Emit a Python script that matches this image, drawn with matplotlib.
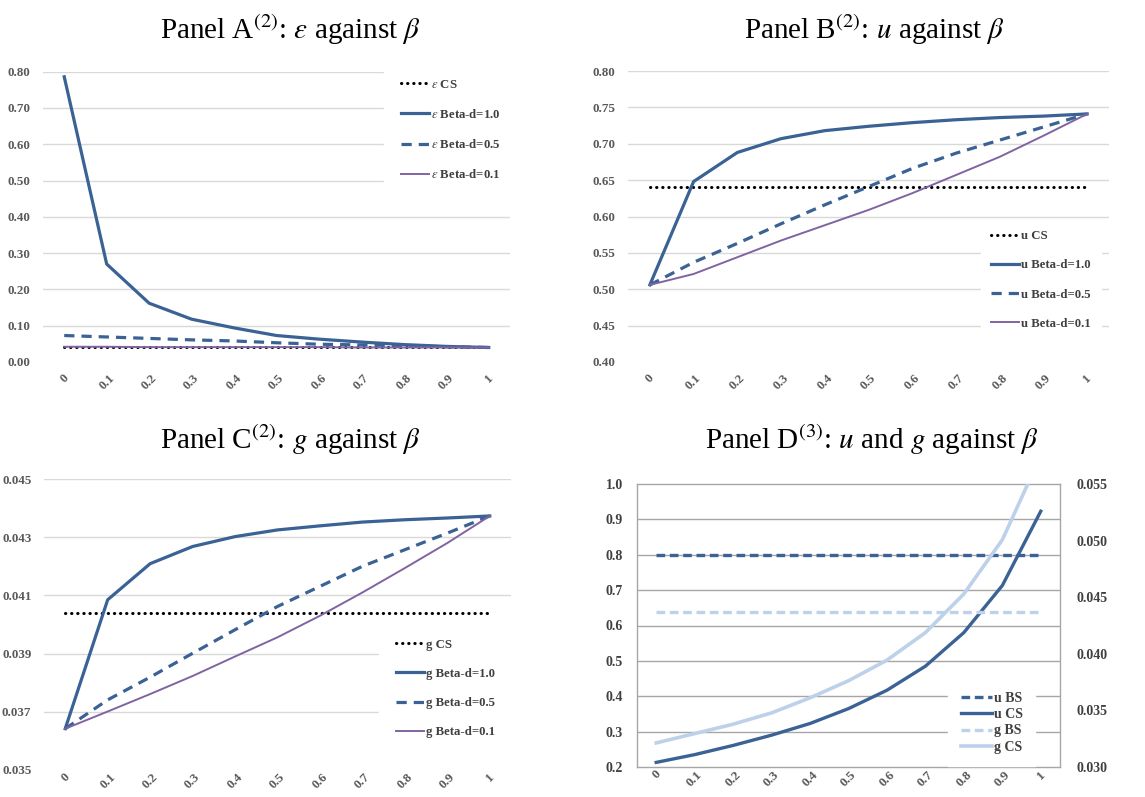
import matplotlib
matplotlib.use("Agg")
import matplotlib.pyplot as plt

# ---------------- data ----------------
beta = [0.0, 0.1, 0.2, 0.3, 0.4, 0.5, 0.6, 0.7, 0.8, 0.9, 1.0]
beta_labels = ['0', '0.1', '0.2', '0.3', '0.4', '0.5', '0.6', '0.7', '0.8', '0.9', '1']

# Panel A : epsilon
epsA_cs = [0.040, 0.040, 0.040, 0.040, 0.040, 0.040, 0.040, 0.040, 0.040, 0.040, 0.040]
epsA_d10 = [0.786, 0.270, 0.162, 0.118, 0.094, 0.073, 0.063, 0.055, 0.048, 0.043, 0.040]
epsA_d05 = [0.073, 0.069, 0.065, 0.061, 0.058, 0.053, 0.049, 0.047, 0.045, 0.042, 0.040]
epsA_d01 = [0.042, 0.042, 0.041, 0.041, 0.041, 0.041, 0.041, 0.040, 0.040, 0.040, 0.040]

# Panel B : u
uB_cs = [0.640, 0.640, 0.640, 0.640, 0.640, 0.640, 0.640, 0.640, 0.640, 0.640, 0.640]
uB_d10 = [0.506, 0.648, 0.688, 0.707, 0.718, 0.724, 0.729, 0.733, 0.736, 0.738, 0.741]
uB_d05 = [0.506, 0.537, 0.563, 0.590, 0.616, 0.641, 0.666, 0.687, 0.705, 0.723, 0.741]
uB_d01 = [0.506, 0.521, 0.544, 0.567, 0.588, 0.609, 0.632, 0.657, 0.682, 0.711, 0.741]

# Panel C : g
gC_cs = [0.04039] * 11
gC_d10 = [0.03642, 0.04085, 0.04209, 0.04268, 0.04302, 0.04325, 0.04339, 0.04352, 0.04360, 0.04366, 0.04373]
gC_d05 = [0.03642, 0.03741, 0.03819, 0.03901, 0.03982, 0.04062, 0.04131, 0.04200, 0.04257, 0.04314, 0.04373]
gC_d01 = [0.03642, 0.03701, 0.03761, 0.03823, 0.03890, 0.03956, 0.04030, 0.04110, 0.04194, 0.04280, 0.04373]

# Panel D : u and g
uD_bs = [0.800] * 11
uD_cs = [0.213, 0.235, 0.261, 0.290, 0.323, 0.365, 0.417, 0.485, 0.580, 0.713, 0.923]
gD_bs = [0.0437] * 11
gD_cs = [0.03213, 0.03295, 0.03378, 0.03478, 0.03611, 0.03762, 0.03944, 0.04187, 0.04529, 0.05007, 0.05750]

# ---------------- style ----------------
plt.rcParams['font.family'] = ['Liberation Serif', 'DejaVu Serif']
plt.rcParams['mathtext.fontset'] = 'stix'

BLUE = '#3A6294'
PURPLE = '#8064A2'
LIGHT = '#BDD1EA'
GRID = '#D9D9D9'
TICKC = '#595959'
LEGC = '#404040'

W, H = 1145, 797
fig = plt.figure(figsize=(W / 100, H / 100), dpi=100)


def rect(l, t, r, b):
    return [l / W, 1 - b / H, (r - l) / W, (b - t) / H]


DOT = dict(color='black', lw=2.2, linestyle=(0, (0.1, 1.9)), dash_capstyle='round')
FS = 9.4
LFS = 9.2


def base_axes(r, ylim, yticks, yfmt, fs=FS, grid=GRID, xpad=7):
    ax = fig.add_axes(r)
    ax.set_xlim(-0.05, 1.05)
    ax.set_ylim(*ylim)
    ax.set_xticks(beta)
    ax.set_xticklabels(beta_labels, rotation=45, ha='center', va='top',
                       fontsize=fs, fontweight='bold', color=TICKC)
    ax.set_yticks(yticks)
    ax.set_yticklabels([yfmt.format(v) for v in yticks], fontsize=fs,
                       fontweight='bold', color=TICKC)
    ax.tick_params(length=0)
    ax.tick_params(axis='y', pad=9)
    ax.tick_params(axis='x', pad=xpad)
    for v in yticks[1:]:
        ax.axhline(v, color=grid, lw=1.0, zorder=0)
    for s in ax.spines.values():
        s.set_visible(False)
    return ax


def legend(ax, x, y, fs=LFS, spacing=1.35, pad=1.3, hl=2.2):
    lg = ax.legend(loc='upper left', bbox_to_anchor=(x / W, 1 - y / H),
                   bbox_transform=fig.transFigure, frameon=True, fancybox=False,
                   facecolor='white', edgecolor='white', framealpha=1.0,
                   borderpad=pad, labelspacing=spacing, handlelength=hl,
                   handletextpad=0.15, borderaxespad=0,
                   prop={'size': fs, 'weight': 'bold'})
    for t in lg.get_texts():
        t.set_color(LEGC)
    lg.set_zorder(5)
    return lg


# ---- Panel A ----
axA = base_axes(rect(43, 71.7, 510, 362), (0, 0.8),
                [0, 0.1, 0.2, 0.3, 0.4, 0.5, 0.6, 0.7, 0.8], '{:.2f}')
axA.plot(beta, epsA_cs, label=r'$\varepsilon$ CS', **DOT)
axA.plot(beta, epsA_d10, color=BLUE, lw=2.3, label=r'$\varepsilon$ Beta-d=1.0')
axA.plot(beta, epsA_d05, color=BLUE, lw=2.3, linestyle=(0, (3.2, 2.2)), label=r'$\varepsilon$ Beta-d=0.5')
axA.plot(beta, epsA_d01, color=PURPLE, lw=1.4, label=r'$\varepsilon$ Beta-d=0.1')
legend(axA, 384, 62)

# ---- Panel B ----
axB = base_axes(rect(628, 71, 1109, 362), (0.40, 0.80),
                [0.40, 0.45, 0.50, 0.55, 0.60, 0.65, 0.70, 0.75, 0.80], '{:.2f}')
axB.plot(beta, uB_cs, label='u CS', **DOT)
axB.plot(beta, uB_d10, color=BLUE, lw=2.3, label='u Beta-d=1.0')
axB.plot(beta, uB_d05, color=BLUE, lw=2.3, linestyle=(0, (3.2, 2.2)), label='u Beta-d=0.5')
axB.plot(beta, uB_d01, color=PURPLE, lw=1.4, label='u Beta-d=0.1')
legend(axB, 981, 220, pad=0.8)

# ---- Panel C ----
axC = base_axes(rect(44, 479, 511, 770), (0.035, 0.045),
                [0.035, 0.037, 0.039, 0.041, 0.043, 0.045], '{:.3f}', xpad=1)
axC.plot(beta, gC_cs, label='g CS', **DOT)
axC.plot(beta, gC_d10, color=BLUE, lw=2.3, label='g Beta-d=1.0')
axC.plot(beta, gC_d05, color=BLUE, lw=2.3, linestyle=(0, (3.2, 2.2)), label='g Beta-d=0.5')
axC.plot(beta, gC_d01, color=PURPLE, lw=1.4, label='g Beta-d=0.1')
legend(axC, 379, 622)

# ---- Panel D ----
fsD = 10.0
axD = fig.add_axes(rect(637, 484, 1060, 767))
axD.set_xlim(-0.05, 1.05)
axD.set_ylim(0.2, 1.0)
axD.set_xticks(beta)
axD.set_xticklabels(beta_labels, rotation=45, ha='center', va='top',
                    fontsize=9.6, fontweight='bold', color=TICKC)
yD = [0.2, 0.3, 0.4, 0.5, 0.6, 0.7, 0.8, 0.9, 1.0]
axD.set_yticks(yD)
axD.set_yticklabels(['{:.1f}'.format(v) for v in yD], fontsize=fsD,
                    fontweight='bold', color='#404040')
axD.tick_params(length=0)
axD.tick_params(axis='y', pad=10)
axD.tick_params(axis='x', pad=1)
for v in yD[1:-1]:
    axD.axhline(v, color='#A6A6A6', lw=1.0, zorder=0)
for s in axD.spines.values():
    s.set_color('#A6A6A6')
    s.set_linewidth(1.0)

axD2 = axD.twinx()
axD2.set_ylim(0.030, 0.055)
yD2 = [0.030, 0.035, 0.040, 0.045, 0.050, 0.055]
axD2.set_yticks(yD2)
axD2.set_yticklabels(['{:.3f}'.format(v) for v in yD2], fontsize=fsD,
                     fontweight='bold', color='#404040')
axD2.tick_params(length=0, pad=12)
for s in axD2.spines.values():
    s.set_visible(False)

l1, = axD.plot(beta, uD_bs, color=BLUE, lw=2.4, linestyle=(0, (2.6, 1.4)), label='u BS')
l2, = axD.plot(beta, uD_cs, color=BLUE, lw=2.4, label='u CS')
l3, = axD2.plot(beta, gD_bs, color=LIGHT, lw=2.4, linestyle=(0, (2.6, 1.4)), label='g BS')
l4, = axD2.plot(beta, gD_cs, color=LIGHT, lw=2.6, label='g CS')
lgD = axD2.legend([l1, l2, l3, l4], ['u BS', 'u CS', 'g BS', 'g CS'],
                  loc='upper left', bbox_to_anchor=(948 / W, 1 - 679 / H),
                  bbox_transform=fig.transFigure, frameon=True, fancybox=False,
                  facecolor='white', edgecolor='white', framealpha=1.0,
                  borderpad=0.9, labelspacing=0.25, handlelength=2.3,
                  handletextpad=0.1, borderaxespad=0,
                  prop={'size': fsD, 'weight': 'bold'})
for t in lgD.get_texts():
    t.set_color(LEGC)

# ---- Titles ----
TFS = 21
fig.text(290 / W, 1 - 39 / H, r'Panel A$^{(2)}$: $\varepsilon$ against $\beta$',
         ha='center', va='baseline', fontsize=TFS)
fig.text(874 / W, 1 - 39 / H, r'Panel B$^{(2)}$: $u$ against $\beta$',
         ha='center', va='baseline', fontsize=TFS)
fig.text(290 / W, 1 - 449 / H, r'Panel C$^{(2)}$: $g$ against $\beta$',
         ha='center', va='baseline', fontsize=TFS)
fig.text(872 / W, 1 - 449 / H, r'Panel D$^{(3)}$: $u$ and $g$ against $\beta$',
         ha='center', va='baseline', fontsize=TFS)

fig.savefig('out.png', dpi=100, facecolor='white')
